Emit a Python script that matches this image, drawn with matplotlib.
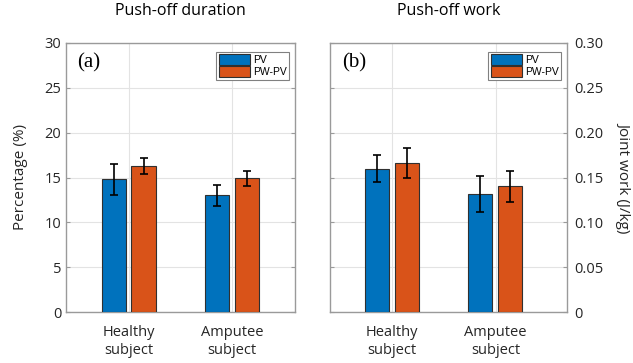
import matplotlib.pyplot as plt
import numpy as np

plt.rcParams['font.family'] = ['Open Sans', 'DejaVu Sans']

# 数据
groups = ['Healthy\nsubject', 'Amputee\nsubject']
series = ['PV', 'PW-PV']

duration_mean = {'PV': [14.8, 13.0], 'PW-PV': [16.3, 14.9]}
duration_err = {'PV': [1.75, 1.2], 'PW-PV': [0.93, 0.88]}

work_mean = {'PV': [0.160, 0.132], 'PW-PV': [0.166, 0.140]}
work_err = {'PV': [0.015, 0.020], 'PW-PV': [0.017, 0.017]}

duration_ticks = [0, 5, 10, 15, 20, 25, 30]
work_ticks = [0, 0.05, 0.10, 0.15, 0.20, 0.25, 0.30]
work_ticklabels = ['0', '0.05', '0.10', '0.15', '0.20', '0.25', '0.30']

colors = {'PV': '#0072BD', 'PW-PV': '#D95319'}
offsets = {'PV': -0.148, 'PW-PV': 0.142}
bar_width = 0.235


def draw_panel(ax, means, errs, tag, xlim):
    x = np.arange(1, len(groups) + 1)
    for s in series:
        ax.bar(x + offsets[s], means[s], width=bar_width, color=colors[s],
               edgecolor='#303030', linewidth=0.8, label=s, zorder=3)
        ax.errorbar(x + offsets[s], means[s], yerr=errs[s], fmt='none',
                    ecolor='black', elinewidth=1.2, capsize=3.2, capthick=1.2, zorder=4)
    ax.set_xlim(*xlim)
    ax.set_xticks(x)
    ax.set_xticklabels(groups, fontsize=11, color='#262626', linespacing=1.3)
    ax.grid(True, color='#e3e3e3', linewidth=0.8, zorder=0)
    ax.set_axisbelow(True)
    for sp in ax.spines.values():
        sp.set_color('#9a9a9a')
        sp.set_linewidth(1.0)
    ax.tick_params(axis='both', direction='in', length=3, width=0.8, color='#9a9a9a',
                   labelsize=10.5, labelcolor='#262626')
    ax.tick_params(axis='x', length=0, pad=9)
    ax.tick_params(axis='y', left=True, right=True)
    ax.text(0.05, 0.925, tag, transform=ax.transAxes, fontsize=15,
            family='Liberation Serif', va='center', ha='left', color='black')
    leg = ax.legend(loc='upper right', bbox_to_anchor=(0.975, 0.968), fontsize=7.5,
                    handlelength=3.0, handleheight=1.25, handletextpad=0.25,
                    borderpad=0.25, labelspacing=0.1, borderaxespad=0,
                    fancybox=False, framealpha=1, edgecolor='#808080')
    leg.get_frame().set_linewidth(0.8)
    for t in leg.get_texts():
        t.set_family(['Liberation Sans', 'DejaVu Sans'])


fig = plt.figure(figsize=(6.33, 3.63), dpi=100)

# (a) 持续时间
ax1 = fig.add_axes([66 / 633, 51 / 363, 229 / 633, 269 / 363])
draw_panel(ax1, duration_mean, duration_err, '(a)', (0.39, 2.61))
ax1.set_ylim(0, 30)
ax1.set_yticks(duration_ticks)
ax1.set_ylabel('Percentage (%)', fontsize=11, color='#262626', labelpad=12)
ax1.set_title('Push-off duration', fontsize=11.5, color='black', pad=20)

# (b) 做功
ax2 = fig.add_axes([330 / 633, 51 / 363, 237 / 633, 269 / 363])
draw_panel(ax2, work_mean, work_err, '(b)', (0.40, 2.69))
ax2.set_ylim(0, 0.30)
ax2.set_yticks(work_ticks)
ax2.set_yticklabels(work_ticklabels)
ax2.tick_params(axis='y', labelleft=False, labelright=True, pad=5)
ax2.set_title('Push-off work', fontsize=11.5, color='black', pad=20)
fig.text(624 / 633, 186 / 363, 'Joint work (J/kg)', fontsize=11, color='#262626',
         rotation=270, ha='center', va='center')

fig.savefig('out.png', dpi=100)
